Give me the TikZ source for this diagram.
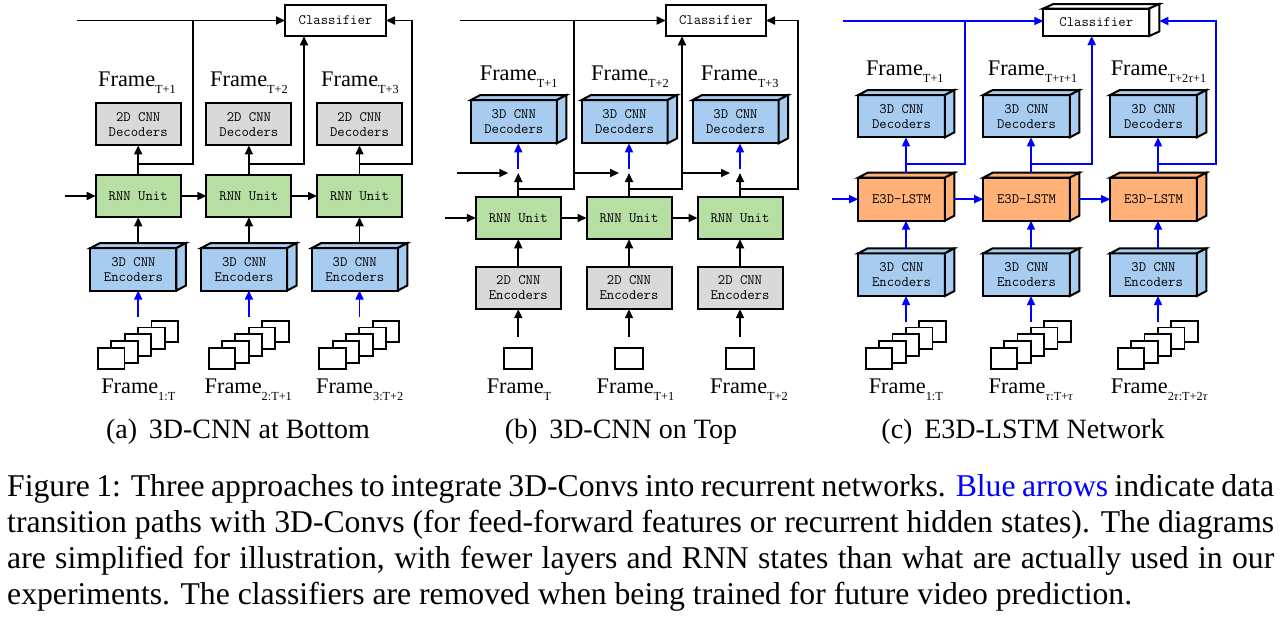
\documentclass[tikz,border=0pt]{standalone}
\usepackage{fontspec}
\setmainfont{Liberation Serif}
\usetikzlibrary{arrows.meta}
\definecolor{boxgray}{RGB}{217,217,217}
\definecolor{rnngreen}{RGB}{183,222,163}
\definecolor{cnnblue}{RGB}{168,204,240}
\definecolor{lstmorange}{RGB}{255,177,120}
\newcommand{\boxfont}{\ttfamily\fontsize{14.3}{15}\selectfont}
\newcommand{\lblfont}{\fontsize{22.3}{24}\selectfont}
\newcommand{\subcapfont}{\fontsize{28}{30}\selectfont}
\newcommand{\capfont}{\fontsize{31.7}{35.6}\selectfont}
\newcommand{\lblsub}[1]{\raisebox{-7pt}{\fontsize{12.3}{12.3}\selectfont #1}}
\newcommand{\tu}{\textit{τ}}
\newcommand{\faces}[4]{%
  \draw[face,fill=#2] (#1.north west) -- ([shift={(#3,#4)}]#1.north west) -- ([shift={(#3,#4)}]#1.north east) -- (#1.north east) -- cycle;
  \draw[face,fill=#2] (#1.north east) -- ([shift={(#3,#4)}]#1.north east) -- ([shift={(#3,#4)}]#1.south east) -- (#1.south east) -- cycle;}
\newcommand{\framestack}[2]{%
  \foreach \k in {4,3,2,1,0} {\node[fr] (#1\k) at ({#2-27+13.4*\k},{358.5-6.75*\k}) {};}}
\tikzset{
  box/.style={draw=black, line width=2pt, minimum width=85pt, minimum height=42.5pt, inner sep=0pt, outer sep=0pt, font=\boxfont, align=center, text=black},
  box3/.style={box, minimum width=86pt},
  cls/.style={box, fill=white, minimum width=101pt, minimum height=31.5pt},
  face/.style={draw=black, line width=2pt},
  ln/.style={line width=1.7pt},
  blk/.style={ln, -{Triangle[length=9pt,width=8pt]}},
  blu/.style={blk, blue},
  bln/.style={ln, blue},
  fr/.style={draw, line width=1.9pt, fill=white, minimum width=26.6pt, minimum height=21.6pt, inner sep=0pt, outer sep=0pt},
  lbl/.style={font=\lblfont, anchor=base, inner sep=0pt},
  sublbl/.style={font=\subcapfont, anchor=base, inner sep=0pt},
  capline/.style={font=\capfont, anchor=base west, inner sep=0pt}
}
\begin{document}
\begin{tikzpicture}[x=1pt,y=-1pt]
\useasboundingbox (0,0) rectangle (1286,619);
% ================= Panel (a) =================
\node[cls] (clsA) at (335.5,20.5) {Classifier};
\coordinate (ina) at (77,20.5);
\draw[blk] (ina) -- (clsA);
\foreach \i/\X in {1/138.2,2/248.9,3/359.5}{
  \node[box,fill=boxgray] (da\i) at (\X,124.2) {2D CNN\\Decoders};
  \node[box,fill=rnngreen] (ra\i) at (\X,196) {RNN Unit};
  \node[box3,fill=cnnblue] (ea\i) at (\X-4.75,269.3) {3D CNN\\Encoders};
  \faces{ea\i}{cnnblue}{9.5}{-5}
  \draw[blk] (ra\i) -- (da\i);
  \draw[blk] ([shift={(4.75,-5)}]ea\i.north) -- (ra\i.south);
  \coordinate (sa\i) at (\X,316.7);
  \draw[blu] (sa\i) -- ([xshift=4.75pt]ea\i.south);
  \framestack{fa\i}{\X}
  \coordinate (ba\i) at (\X,164);
}
\coordinate (ja1) at (193,20.5);
\draw[ln] (ba1) -| (ja1);
\coordinate (va2) at ([xshift=-31.5pt]clsA.south);
\draw[blk] (ba2) -| (va2);
\coordinate (ka3) at (412,20.5);
\draw[blk] (ba3) -| (ka3) -- (clsA.east);
\coordinate (ra0) at (65,196);
\draw[blk] (ra0) -- (ra1);
\draw[blk] (ra1) -- (ra2);
\draw[blk] (ra2) -- (ra3);
\node[lbl] (lta1) at (137,86.7) {Frame\lblsub{T+1}};
\node[lbl] (lta2) at (249,86.7) {Frame\lblsub{T+2}};
\node[lbl] (lta3) at (360,86.7) {Frame\lblsub{T+3}};
\node[lbl] (lba1) at (138.3,393) {Frame\lblsub{1:T}};
\node[lbl] (lba2) at (248.3,393) {Frame\lblsub{2:T+1}};
\node[lbl] (lba3) at (359.7,393) {Frame\lblsub{3:T+2}};
\node[sublbl] (capa) at (238,438) {(a)\hspace{0.42em}3D-CNN at Bottom};
% ================= Panel (b) =================
\node[cls, minimum width=100.3pt] (clsB) at (715.85,20.5) {Classifier};
\coordinate (inb) at (460,20.5);
\draw[blk] (inb) -- (clsB);
\foreach \i/\X in {1/518.3,2/629,3/740}{
  \node[box3,fill=cnnblue,minimum height=43.3pt] (db\i) at (\X-4.5,121.7) {3D CNN\\Decoders};
  \faces{db\i}{cnnblue}{9.5}{-5}
  \node[box,fill=rnngreen] (rb\i) at (\X,218) {RNN Unit};
  \node[box,fill=boxgray] (eb\i) at (\X,287.9) {2D CNN\\Encoders};
  \node[fr, minimum width=28pt, minimum height=21.3pt] (fb\i) at (\X,358.3) {};
  \coordinate (jb\i) at (\X,173);
  \draw[blk] (rb\i) -- (jb\i);
  \draw[blu] ([yshift=4pt]jb\i) -- ([xshift=4.5pt]db\i.south);
  \draw[blk] (eb\i) -- (rb\i);
  \coordinate (sb\i) at (\X,337.3);
  \draw[blk] (sb\i) -- (eb\i);
  \coordinate (bb\i) at (\X,189.3);
}
\coordinate (hb1) at (457,173);
\draw[blk] (hb1) -- ([xshift=-10pt]jb1);
\coordinate (vb1) at (574,20.5);
\draw[ln] (bb1) -| (vb1);
\draw[blk] (vb1 |- jb1) -- ([xshift=-10pt]jb2);
\coordinate (vb2) at ([xshift=-33.85pt]clsB.south);
\draw[blk] (bb2) -| (vb2);
\draw[blk] (vb2 |- jb2) -- ([xshift=-10pt]jb3);
\coordinate (kb3) at (798,20.5);
\draw[blk] (bb3) -| (kb3) -- (clsB.east);
\coordinate (rb0) at (445,218);
\draw[blk] (rb0) -- (rb1);
\draw[blk] (rb1) -- (rb2);
\draw[blk] (rb2) -- (rb3);
\node[lbl] (ltb1) at (518.7,80) {Frame\lblsub{T+1}};
\node[lbl] (ltb2) at (630,80) {Frame\lblsub{T+2}};
\node[lbl] (ltb3) at (739.7,80) {Frame\lblsub{T+3}};
\node[lbl] (lbb1) at (519,393.3) {Frame\lblsub{T}};
\node[lbl] (lbb2) at (635.5,393.3) {Frame\lblsub{T+1}};
\node[lbl] (lbb3) at (749,393.3) {Frame\lblsub{T+2}};
\node[sublbl] (capb) at (621,438) {(b)\hspace{0.42em}3D-CNN on Top};
% ================= Panel (c) =================
\node[cls, minimum width=106pt, minimum height=27.5pt] (clsC) at (1096.3,22.25) {Classifier};
\faces{clsC}{white}{10}{-4.5}
\coordinate (clsCe) at ([xshift=10pt]clsC.east);
\coordinate (inc) at (843,21);
\draw[blu] (inc) -- (inc -| clsC.west);
\foreach \i/\X in {1/906,2/1031,3/1158}{
  \node[box3,fill=cnnblue,minimum width=86.7pt,minimum height=42.3pt] (dc\i) at (\X-4.5,116.2) {3D CNN\\Decoders};
  \faces{dc\i}{cnnblue}{9.5}{-5}
  \node[box3,fill=lstmorange,minimum width=86.7pt,minimum height=43pt] (lc\i) at (\X-4.5,199.2) {E3D-LSTM};
  \faces{lc\i}{lstmorange}{9.5}{-5}
  \node[box3,fill=cnnblue,minimum width=86.7pt,minimum height=42.7pt] (ec\i) at (\X-4.5,274.7) {3D CNN\\Encoders};
  \faces{ec\i}{cnnblue}{9.5}{-5}
  \draw[blu] ([shift={(4.5,-5)}]lc\i.north) -- ([xshift=4.5pt]dc\i.south);
  \draw[blu] ([shift={(4.5,-5)}]ec\i.north) -- ([xshift=4.5pt]lc\i.south);
  \coordinate (sc\i) at (\X,321.7);
  \draw[blu] (sc\i) -- ([xshift=4.5pt]ec\i.south);
  \framestack{fc\i}{\X}
  \coordinate (bc\i) at (\X,164);
}
\coordinate (jc1) at (965,21);
\draw[bln] (bc1) -| (jc1);
\coordinate (vc2) at ([xshift=-4.6pt]clsC.south);
\draw[blu] (bc2) -| (vc2);
\coordinate (kc3) at (1216,21);
\draw[blu] (bc3) -| (kc3) -- (kc3 -| clsCe);
\coordinate (lc0) at (831.7,199.2);
\draw[blu] (lc0) -- (lc1.west);
\draw[blu] ([xshift=9.5pt]lc1.east) -- (lc2.west);
\draw[blu] ([xshift=9.5pt]lc2.east) -- (lc3.west);
\node[lbl] (ltc1) at (904.8,75) {Frame\lblsub{T+1}};
\node[lbl] (ltc2) at (1032.5,75) {Frame\lblsub{T+\tu+1}};
\node[lbl] (ltc3) at (1158.5,75) {Frame\lblsub{T+2\tu+1}};
\node[lbl] (lbc1) at (905.8,393.3) {Frame\lblsub{1:T}};
\node[lbl] (lbc2) at (1030.8,393.3) {Frame\lblsub{\tu:T+\tu}};
\node[lbl] (lbc3) at (1159.2,393.3) {Frame\lblsub{2\tu:T+2\tu}};
\node[sublbl] (capc) at (1023,438) {(c)\hspace{0.42em}E3D-LSTM Network};
% ================= Caption =================
\node[capline] (cap1) at (7,496.7) {\makebox[1267pt][s]{Figure 1: Three approaches to integrate 3D-Convs into recurrent networks. \textcolor{blue}{Blue arrows} indicate data}};
\node[capline] (cap2) at (7,532.5) {\makebox[1267pt][s]{transition paths with 3D-Convs (for feed-forward features or recurrent hidden states). The diagrams}};
\node[capline] (cap3) at (7,568.3) {\makebox[1267pt][s]{are simplified for illustration, with fewer layers and RNN states than what are actually used in our}};
\node[capline] (cap4) at (7,604) {experiments. The classifiers are removed when being trained for future video prediction.};
\end{tikzpicture}
\end{document}
